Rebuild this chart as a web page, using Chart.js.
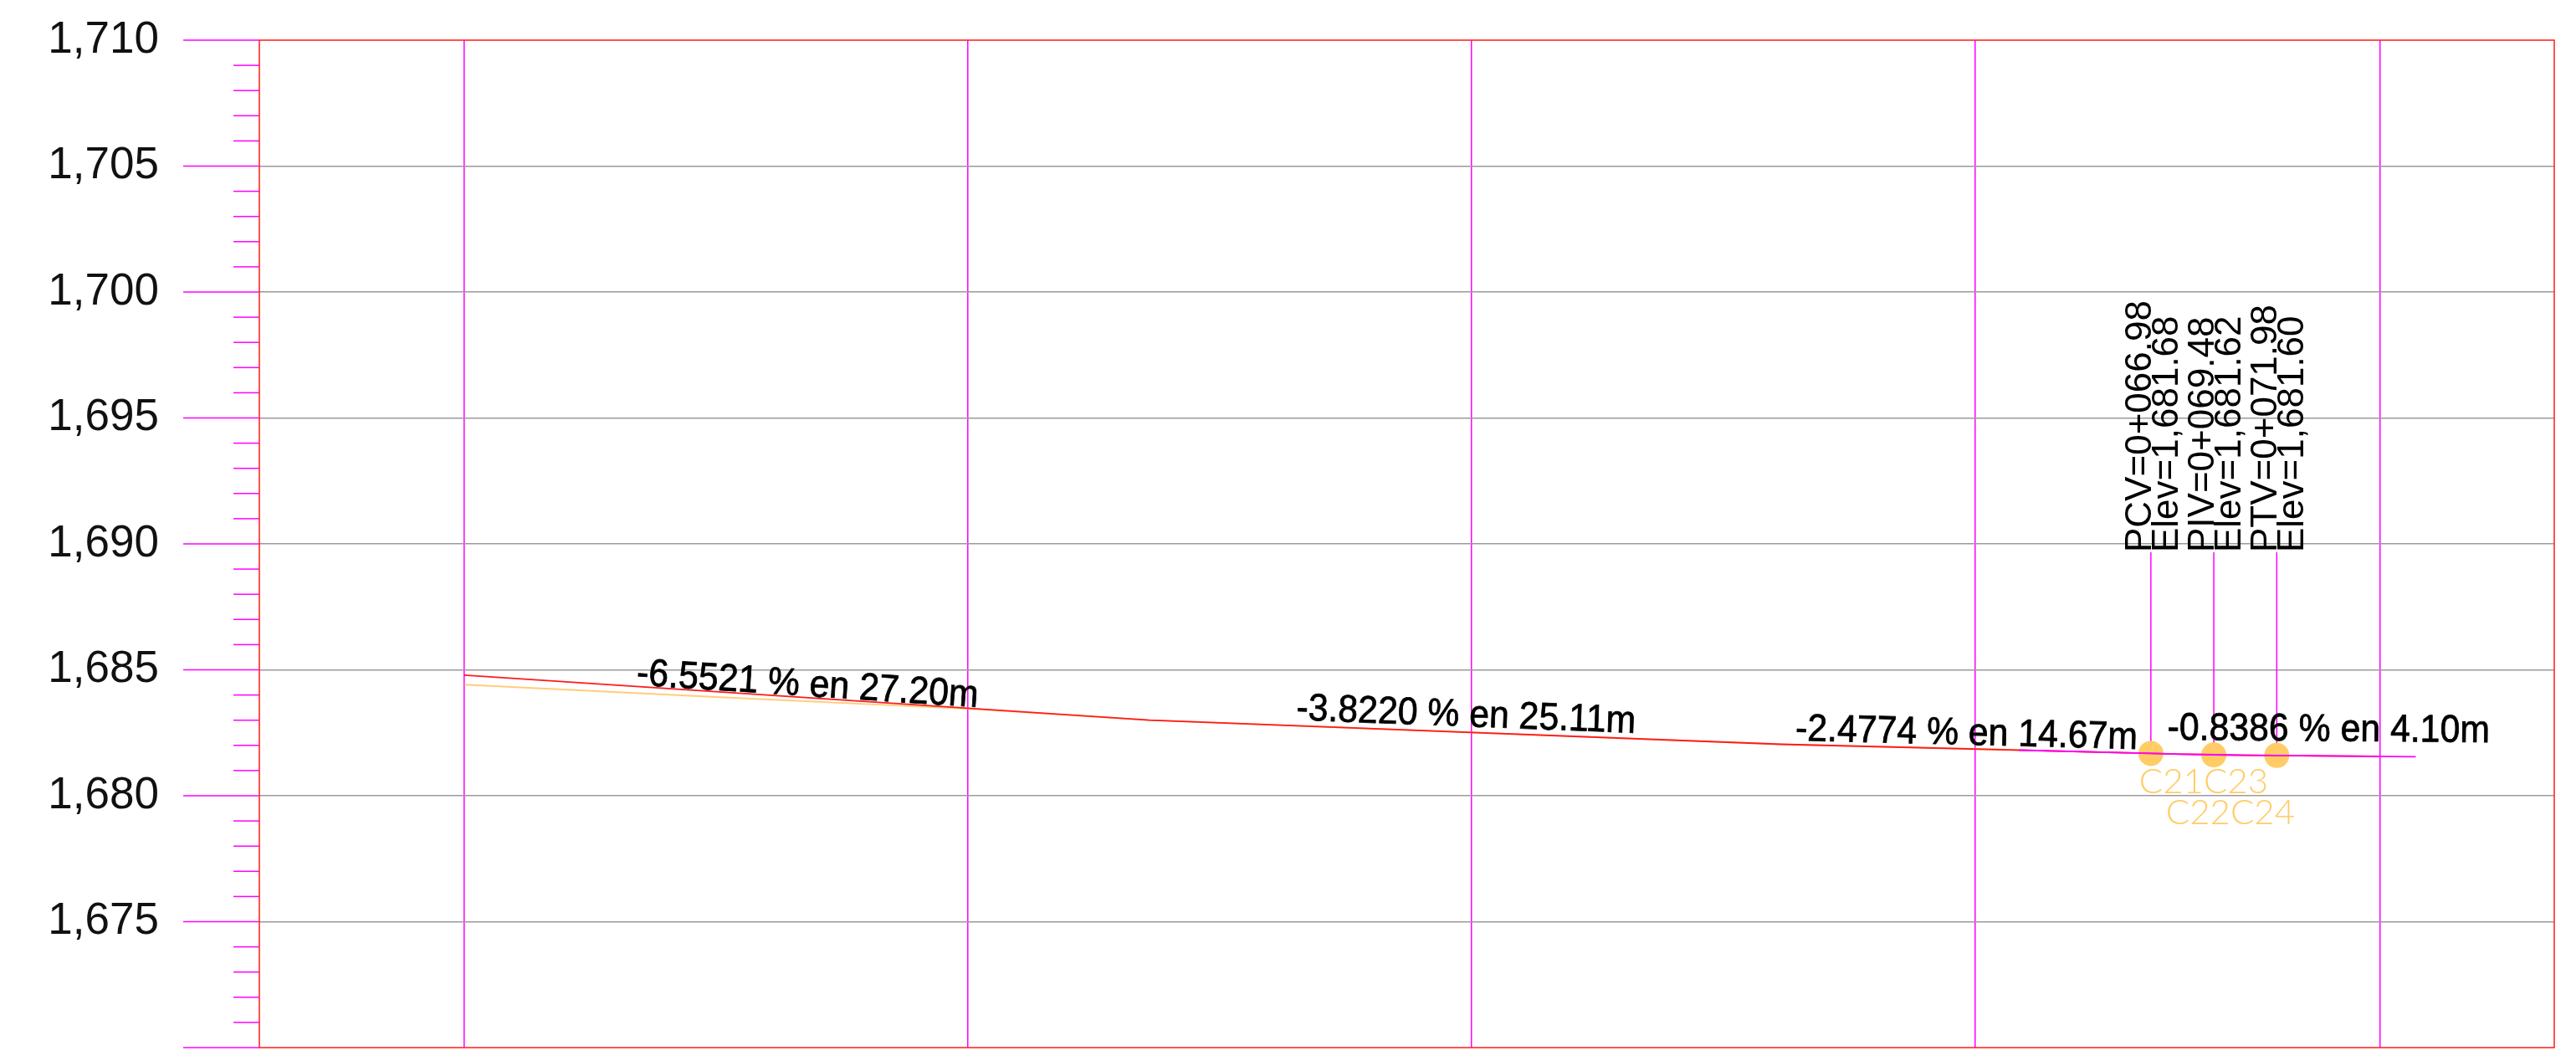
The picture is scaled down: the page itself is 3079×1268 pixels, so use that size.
<!DOCTYPE html>
<html><head><meta charset="utf-8">
<script src="https://cdn.jsdelivr.net/npm/chart.js@4.4.1/dist/chart.umd.min.js"></script>
<style>html,body{margin:0;padding:0;background:#fff;overflow:hidden}
#wrap{position:fixed;left:0;top:0;width:3079px;height:1268px}
canvas{display:block}</style>
</head><body>
<div id="wrap"><canvas id="c" width="3079" height="1268" style="width:3079px;height:1268px"></canvas></div>
<script>
// ---------- data ----------
const stationLines = [0, 20, 40, 60, 76.08];
const gradeStations = [0, 27.2, 52.31, 66.98, 68.23, 69.48, 70.73, 71.98, 76.08];
const gradeElevs = [1684.785, 1683.003, 1682.043, 1681.680, 1681.652, 1681.628, 1681.610, 1681.597, 1681.563];
const terrainStations = [0, 10, 20, 27.2, 40, 52.31, 60, 66.98, 71.98, 76.08];
const terrainElevs = [1684.41, 1683.92, 1683.45, 1683.00, 1682.51, 1682.04, 1681.86, 1681.68, 1681.59, 1681.55];
const curveStations = [61.75, 66.98, 68.23, 69.48, 70.73, 71.98, 77.5];
const curveElevs = [1681.810, 1681.680, 1681.652, 1681.628, 1681.610, 1681.597, 1681.551];
const vcNames = ['PCV', 'PIV', 'PTV'];
const vcStations = [66.98, 69.48, 71.98];
const vcElevs = [1681.68, 1681.62, 1681.60];
const pointLabelRows = ['C21C23', 'C22C24'];
const gradeFrom = [0, 27.2, 52.31, 71.98];
const gradeTo = [27.2, 52.31, 66.98, 76.08];
const gradePct = [-6.5521, -3.8220, -2.4774, -0.8386];
const gradeLen = [27.20, 25.11, 14.67, 4.10];
const yTickValues = [1710, 1705, 1700, 1695, 1690, 1685, 1680, 1675];
const yTickLabels = ['1,710', '1,705', '1,700', '1,695', '1,690', '1,685', '1,680', '1,675'];

// ---------- style ----------
const RED = '#ff1a1a', MAG = '#ff00ff', GRAY = '#9a9a9a', ORANGE = 'rgb(255,204,102)';
const gradeLabelLift = [2, 7, 5, 18];

function pts(xs, ys) { return xs.map((x, i) => ({x: x, y: ys[i]})); }
function fmtStation(s) {
  const km = Math.floor(s / 1000);
  const m = s - km * 1000;
  return km + '+' + m.toFixed(2).padStart(6, '0');
}
function fmtElev(e) {
  return e.toLocaleString('en-US', {minimumFractionDigits: 2, maximumFractionDigits: 2});
}

const overlay = {
  id: 'overlay',
  beforeDraw(chart) {
    const c = chart.ctx;
    c.save(); c.fillStyle = '#fff'; c.fillRect(0, 0, chart.width, chart.height); c.restore();
  },
  beforeDatasetsDraw(chart) {
    const c = chart.ctx, xs = chart.scales.x, ys = chart.scales.y;
    const top = chart.chartArea.top + 612;
    c.save();
    c.strokeStyle = MAG; c.lineWidth = 1.5;
    vcStations.forEach((s, i) => {
      const x = xs.getPixelForValue(s), y = ys.getPixelForValue(vcElevs[i]);
      c.beginPath(); c.moveTo(x, y); c.lineTo(x, top); c.stroke();
    });
    c.restore();
  },
  afterDatasetsDraw(chart) {
    const c = chart.ctx, xs = chart.scales.x, ys = chart.scales.y, a = chart.chartArea;
    c.save();
    c.strokeStyle = RED; c.lineWidth = 1.5;
    c.strokeRect(a.left, a.top, a.right - a.left, a.bottom - a.top);
    c.strokeStyle = MAG; c.lineWidth = 1.5;
    ys.ticks.forEach(t => {
      const y = ys.getPixelForValue(t.value);
      const major = t.value % 5 === 0;
      c.beginPath(); c.moveTo(a.left - (major ? 91 : 31), y); c.lineTo(a.left, y); c.stroke();
    });
    const baseY = a.top + 612;
    c.fillStyle = '#000';
    c.font = '44px "Liberation Sans", Arial, sans-serif';
    c.textAlign = 'left'; c.textBaseline = 'alphabetic';
    vcStations.forEach((s, i) => {
      const x = xs.getPixelForValue(s);
      c.save();
      c.translate(x, baseY);
      c.rotate(-Math.PI / 2);
      c.fillText(vcNames[i] + '=' + fmtStation(s), 0, 0);
      c.fillText('Elev=' + fmtElev(vcElevs[i]), 0, 32);
      c.restore();
    });
    c.textAlign = 'center';
    c.font = '46px "Liberation Sans", Arial, sans-serif';
    c.strokeStyle = '#000'; c.lineWidth = 0.8;
    gradeFrom.forEach((s0, i) => {
      const s1 = gradeTo[i];
      const e0 = gradeElevs[gradeStations.indexOf(s0)], e1 = gradeElevs[gradeStations.indexOf(s1)];
      const x0 = xs.getPixelForValue(s0), y0 = ys.getPixelForValue(e0);
      const x1 = xs.getPixelForValue(s1), y1 = ys.getPixelForValue(e1);
      const ang = Math.atan2(y1 - y0, x1 - x0);
      const txt = gradePct[i].toFixed(4) + ' % en ' + gradeLen[i].toFixed(2) + 'm';
      c.save();
      c.translate((x0 + x1) / 2, (y0 + y1) / 2);
      c.rotate(ang);
      c.scale(0.93, 1);
      c.fillText(txt, 0, -gradeLabelLift[i]);
      c.strokeText(txt, 0, -gradeLabelLift[i]);
      c.restore();
    });
    const px = xs.getPixelForValue(vcStations[0]), py = ys.getPixelForValue(vcElevs[0]);
    c.fillStyle = ORANGE;
    c.font = '300 42px Lato, "Liberation Sans", sans-serif';
    c.textAlign = 'left';
    c.fillText(pointLabelRows[0], px - 14, py + 48);
    c.fillText(pointLabelRows[1], px + 18, py + 85);
    c.restore();
  }
};

new Chart(document.getElementById('c'), {
  type: 'scatter',
  data: {
    datasets: [
      {label: 'curva', data: pts(curveStations, curveElevs), showLine: true, borderColor: MAG, borderWidth: 1.8, pointRadius: 0, tension: 0},
      {label: 'rasante', data: pts(gradeStations, gradeElevs), showLine: true, borderColor: RED, borderWidth: 1.8, pointRadius: 0, tension: 0},
      {label: 'terreno', data: pts(terrainStations, terrainElevs), showLine: true, borderColor: 'rgba(255,200,110,0.9)', borderWidth: 1.8, pointRadius: 0, tension: 0},
      {label: 'puntos', data: pts(vcStations, vcElevs), showLine: false, pointRadius: 15, pointBackgroundColor: ORANGE, pointBorderWidth: 0, pointBorderColor: ORANGE}
    ]
  },
  options: {
    responsive: false,
    devicePixelRatio: 1,
    animation: false,
    events: [],
    layout: {padding: {top: 48, right: 26, bottom: 16, left: 0}},
    plugins: {legend: {display: false}, tooltip: {enabled: false}},
    scales: {
      x: {
        type: 'linear', min: -8.14, max: 83.0,
        afterBuildTicks: s => { s.ticks = stationLines.map(v => ({value: v})); },
        afterFit: s => { s.height = 0; s.paddingLeft = 0; s.paddingRight = 0; },
        ticks: {display: false},
        border: {display: false},
        grid: {color: MAG, lineWidth: 1.5, drawTicks: false}
      },
      y: {
        type: 'linear', min: 1670, max: 1710,
        afterFit: s => { s.width = 310; s.paddingTop = 0; s.paddingBottom = 0; },
        ticks: {
          stepSize: 1, autoSkip: false, padding: 120, color: '#111',
          font: {family: '"Liberation Sans", Arial, sans-serif', size: 53},
          callback: v => { const i = yTickValues.indexOf(v); return i >= 0 ? yTickLabels[i] : ''; }
        },
        border: {display: false},
        grid: {
          drawTicks: false, lineWidth: 1.5,
          color: ctx => (ctx.tick && ctx.tick.value % 5 === 0 && ctx.tick.value !== 1670 && ctx.tick.value !== 1710) ? GRAY : 'rgba(0,0,0,0)'
        }
      }
    }
  },
  plugins: [overlay]
});
</script>
</body></html>
